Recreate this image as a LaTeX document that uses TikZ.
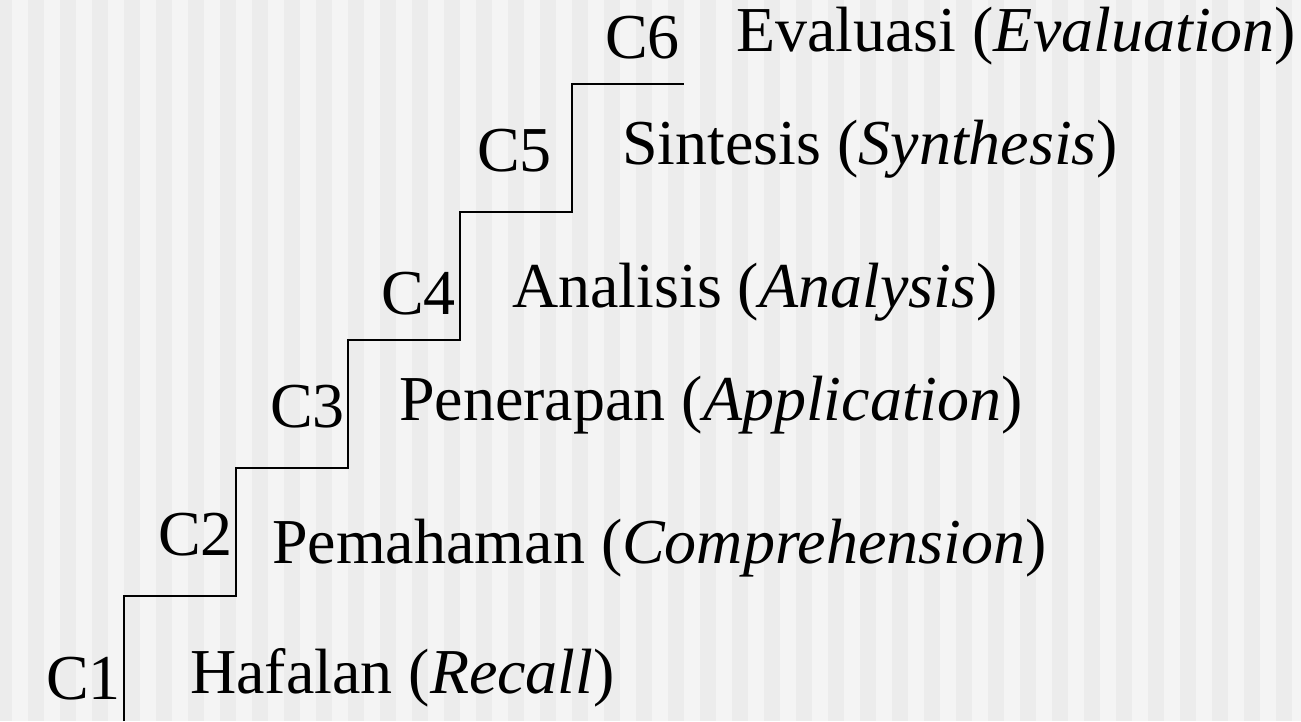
\documentclass[tikz,border=0pt]{standalone}
\usepackage{fontspec}
\setmainfont{Liberation Serif}
\begin{document}
\begin{tikzpicture}[x=1pt,y=1pt,
  lbl/.style={anchor=base west, inner sep=0pt, font=\fontsize{64}{70}\selectfont},
  stair/.style={line width=1.8pt, draw=black}]
\definecolor{stripeA}{RGB}{236,236,236}
\definecolor{stripeB}{RGB}{244,244,244}
\fill[stripeA] (0,0) rectangle (1301,721);
\foreach \k in {0,...,40} {\fill[stripeB] ({12+32*\k},0) rectangle ({min(28+32*\k,1301)},721);}
\useasboundingbox (0,0) rectangle (1301,721);
% stair
\coordinate (s0) at (124,0);
\coordinate (s1) at (236,125);
\coordinate (s2) at (348,253);
\coordinate (s3) at (460,381);
\coordinate (s4) at (572,509);
\coordinate (s5) at (684,637);
\draw[stair] (s0) |- (s1) |- (s2) |- (s3) |- (s4) |- (s5);
% labels
\node[lbl] (c1) at (46,22) {C1};
\node[lbl] (t1) at (190,28) {Hafalan (\textit{Recall})};
\node[lbl] (c2) at (158,166) {C2};
\node[lbl] (t2) at (272,158) {Pemahaman (\textit{Comprehension})};
\node[lbl] (c3) at (270,294) {C3};
\node[lbl] (t3) at (399,300) {Penerapan (\textit{Application})};
\node[lbl] (c4) at (381,406) {C4};
\node[lbl] (t4) at (512,413) {Analisis (\textit{Analysis})};
\node[lbl] (c5) at (477,549) {C5};
\node[lbl] (t5) at (622,556) {Sintesis (\textit{Synthesis})};
\node[lbl] (c6) at (605,662) {C6};
\node[lbl] (t6) at (736,669) {Evaluasi (\textit{Evaluation})};
\end{tikzpicture}
\end{document}
